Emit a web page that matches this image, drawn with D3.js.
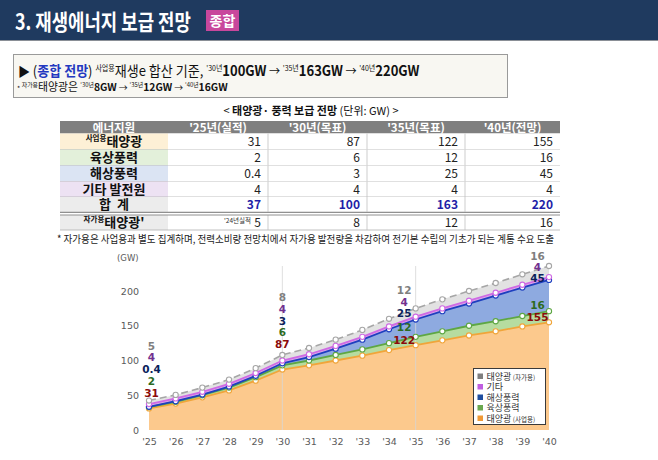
<!DOCTYPE html>
<html><head><meta charset="utf-8">
<script src="https://cdn.jsdelivr.net/npm/d3@7"></script>
<style>
body{margin:0;background:#fff}
svg{display:block}
text{white-space:pre}
</style>
</head><body>
<svg id="c" width="658" height="460"></svg>
<script>
// ---- data ----
const years = [2025, 2026, 2027, 2028, 2029, 2030, 2031, 2032, 2033, 2034, 2035, 2036, 2037, 2038, 2039, 2040];
const solarBiz  = [31, 38, 47, 57, 71, 87, 93, 100, 107, 115, 122, 129, 136, 142, 149, 155];
const onshore   = [2, 2.5, 3, 4, 5, 6, 7, 8, 9, 10, 12, 13, 14, 14.5, 15, 16];
const offshore  = [0.4, 1, 1, 1.5, 2, 3, 5, 9, 14, 20, 25, 29, 32, 37, 41, 45];
const other     = [4, 4, 4, 4, 4, 4, 4, 4, 4, 4, 4, 4, 4, 4, 4, 4];
const solarSelf = [5, 5, 6, 6, 7, 8, 9, 9, 10, 11, 12, 13, 14, 14, 15, 16];

const seriesKeys   = ["solarBiz", "onshore", "offshore", "other", "solarSelf"];
const legendLabels = [["태양광", "(사업용)"], ["육상풍력", ""], ["해상풍력", ""], ["기타", ""], ["태양광", "(자가용)"]];
const markYears    = [2025, 2030, 2035, 2040];
const yTicks       = [0, 50, 100, 150, 200];

const tableHead  = ["에너지원", "'25년(실적)", "'30년(목표)", "'35년(목표)", "'40년(전망)"];
const tableRows  = [["사업용", "태양광"], ["", "육상풍력"], ["", "해상풍력"], ["", "기타 발전원"], ["", "합  계"]];
const tableVals  = [["31", "87", "122", "155"], ["2", "6", "12", "16"], ["0.4", "3", "25", "45"], ["4", "4", "4", "4"], ["37", "100", "163", "220"]];
const selfRow    = [["자가용", "태양광'"], ["5", "8", "12", "16"]];

// ---- styles ----
const kr = "'Noto Sans CJK KR', 'Noto Sans', sans-serif";
const dv = "'DejaVu Sans', Verdana, sans-serif";
const fills  = {solarBiz: "#fcc98d", onshore: "#b6dca0", offshore: "#8eaae0", other: "#dca6ea", solarSelf: "#e2e2e2"};
const lines  = {solarBiz: "#f0a53a", onshore: "#5ea744", offshore: "#1e3fbf", other: "#cf6ae4", solarSelf: "#a6a6a6"};
const labCol = {solarBiz: "#8b0a0a", onshore: "#2d6a1f", offshore: "#0b1f5c", other: "#72308f", solarSelf: "#7f7f7f"};
const legCol = {solarBiz: "#f09a36", onshore: "#6aa84f", offshore: "#1f4e9f", other: "#c05ee0", solarSelf: "#7f7f7f"};

const svg = d3.select("#c");

function rich(x, y, runs, anchor) {
  const t = svg.append("text").attr("x", x).attr("y", y).attr("font-family", kr)
    .attr("text-anchor", anchor || "start");
  let up = 0;
  runs.filter(r => r[0] !== "").forEach(([s, o]) => {
    const shift = o.sup ? -(o.rise || 5) : 0;
    t.append("tspan").text(s)
      .attr("dy", shift - up)
      .attr("font-size", o.size || 13)
      .attr("font-weight", o.bold ? 700 : 400)
      .attr("fill", o.fill || "#111");
    up = shift;
  });
  return t;
}

// squeeze a text horizontally so it spans `width` px from x
function fit(t, x, y, width) {
  const w = t.node().getComputedTextLength();
  t.attr("x", 0).attr("y", 0).attr("transform", `translate(${x},${y}) scale(${width / w},1)`);
  return t;
}

// ---- header ----
svg.append("rect").attr("width", 658).attr("height", 40).attr("fill", "#1f3a5f");
svg.append("line").attr("x1", 0).attr("x2", 658).attr("y1", 40.5).attr("y2", 40.5).attr("stroke", "#8a8f96");
fit(svg.append("text").text("3. 재생에너지 보급 전망")
  .attr("font-family", kr).attr("font-weight", 700).attr("font-size", 22).attr("fill", "#fff"), 15, 30, 176);
svg.append("rect").attr("x", 206).attr("y", 10).attr("width", 33).attr("height", 21).attr("fill", "#c8479c");
svg.append("text").attr("x", 222.5).attr("y", 26).attr("text-anchor", "middle").text("종합")
  .attr("font-family", kr).attr("font-weight", 700).attr("font-size", 14).attr("fill", "#fff");

// ---- summary box ----
svg.append("rect").attr("x", 13.5).attr("y", 54.5).attr("width", 494).attr("height", 43)
  .attr("fill", "#f8f7f2").attr("stroke", "#9a9a9a");
const sup = {sup: true, size: 7.5, rise: 5};
const big = {bold: true, size: 14};
fit(rich(0, 0, [
  ["▶ ", {size: 13}], ["(", {size: 14}], ["종합 전망", {bold: true, size: 14, fill: "#2338c0"}], [") ", {size: 14}],
  ["사업용", sup], ["재생e 합산 기준, ", {size: 14}],
  ["'30년", sup], ["100GW", big], [" → ", {size: 12}],
  ["'35년", sup], ["163GW", big], [" → ", {size: 12}],
  ["'40년", sup], ["220GW", big]
]), 18, 76, 402);
const sup2 = {sup: true, size: 6, rise: 4};
const mid = {bold: true, size: 10.5};
fit(rich(0, 0, [
  ["* ", {size: 7}], ["자가용", sup2], ["태양광은 ", {size: 11}],
  ["'30년", sup2], ["8GW", mid], [" → ", {size: 9}],
  ["'35년", sup2], ["12GW", mid], [" → ", {size: 9}],
  ["'40년", sup2], ["16GW", mid]
]), 17, 91, 211);

// ---- table ----
rich(311, 115, [["< ", {size: 11}], ["태양광· 풍력 보급 전망", {bold: true, size: 11}], [" (단위: GW) >", {size: 11}]], "middle");

const colX = d3.scaleOrdinal().domain(d3.range(6)).range([60, 168, 268, 367, 465, 560]);
const rowY = [133.5, 149.5, 165.5, 181.5, 197, 212];
const rowFill = ["#fdf0d6", "#e3f0da", "#dbe4f3", "#ede2f3", "#ececec"];

// header row
svg.append("rect").attr("x", 60).attr("y", 121).attr("width", 500).attr("height", 12.5).attr("fill", "#7f7f7f");
tableHead.forEach((h, i) => {
  svg.append("text").attr("x", (colX(i) + colX(i + 1)) / 2).attr("y", 131.5).attr("text-anchor", "middle")
    .text(h).attr("font-family", kr).attr("font-size", 11.5).attr("font-weight", 700).attr("fill", "#fff");
});

function tableRow(y0, y1, label, vals, fill, total, note) {
  svg.append("rect").attr("x", 60).attr("y", y0).attr("width", 108).attr("height", y1 - y0).attr("fill", fill);
  svg.append("rect").attr("x", 168).attr("y", y0).attr("width", 392).attr("height", y1 - y0)
    .attr("fill", "#fff");
  svg.append("line").attr("x1", 60).attr("x2", 560).attr("y1", y1).attr("y2", y1).attr("stroke", "#b0b0b0").attr("stroke-width", 0.8);
  d3.range(2, 5).forEach(i => svg.append("line").attr("x1", colX(i)).attr("x2", colX(i))
    .attr("y1", y0).attr("y2", y1).attr("stroke", "#c0c0c0").attr("stroke-width", 0.8));
  const ty = (y0 + y1) / 2 + 4.5;
  rich(114, ty, [[label[0], {sup: true, size: 7.5, rise: 5, bold: true}], [label[1], {bold: true, size: 13}]], "middle");
  vals.forEach((v, i) => {
    svg.append("text").attr("x", colX(i + 2) - 7).attr("y", ty).attr("text-anchor", "end").text(v)
      .attr("font-family", kr).attr("font-size", 12).attr("font-weight", total ? 700 : 400)
      .attr("fill", total ? "#1f1fa8" : "#222");
  });
  if (note) {
    svg.append("text").attr("x", colX(2) - 17).attr("y", ty - 4).attr("text-anchor", "end").text(note)
      .attr("font-family", kr).attr("font-size", 6.5).attr("fill", "#333");
  }
}
tableRows.forEach((r, i) => tableRow(rowY[i], rowY[i + 1], r, tableVals[i], rowFill[i], i === 4));
svg.append("line").attr("x1", 60).attr("x2", 560).attr("y1", 212.5).attr("y2", 212.5).attr("stroke", "#909090");
tableRow(215, 230, selfRow[0], selfRow[1], "#ececec", false, "'24년실적");
svg.append("line").attr("x1", 60).attr("x2", 560).attr("y1", 215).attr("y2", 215).attr("stroke", "#909090");
fit(svg.append("text")
  .text("* 자가용은 사업용과 별도 집계하며, 전력소비량 전망치에서 자가용 발전량을 차감하여 전기본 수립의 기초가 되는 계통 수요 도출")
  .attr("font-family", kr).attr("font-size", 10.5).attr("fill", "#222"), 57, 243, 498);

// ---- chart ----
const x = d3.scaleLinear().domain([2025, 2040]).range([149, 549]);
const y = d3.scaleLinear().domain([0, 200]).range([430, 291]);

const rows = years.map((yr, i) => ({year: yr, solarBiz: solarBiz[i], onshore: onshore[i], offshore: offshore[i], other: other[i], solarSelf: solarSelf[i]}));
const stack = d3.stack().keys(seriesKeys)(rows);

const area = d3.area().x(d => x(d.data.year)).y0(d => y(d[0])).y1(d => y(d[1]));
const line = d3.line().x(d => x(d.data.year)).y(d => y(d[1]));

svg.append("g").selectAll("path").data(stack).join("path")
  .attr("d", area).attr("fill", s => fills[s.key]);

// thin guide lines at '30 and '35
[2030, 2035].forEach(yr => {
  svg.append("line").attr("x1", x(yr)).attr("x2", x(yr)).attr("y1", 266).attr("y2", 430)
    .attr("stroke", "#d6d6d6").attr("stroke-width", 0.8);
});

stack.forEach(s => {
  svg.append("path").datum(s).attr("d", line).attr("fill", "none")
    .attr("stroke", lines[s.key]).attr("stroke-width", s.key === "solarSelf" ? 1.6 : 1.8)
    .attr("stroke-dasharray", s.key === "solarSelf" ? "7,4" : null);
  svg.append("g").selectAll("circle").data(s).join("circle")
    .attr("cx", d => x(d.data.year)).attr("cy", d => y(d[1])).attr("r", 2.6)
    .attr("fill", "#fff").attr("stroke", lines[s.key]).attr("stroke-width", 1.1);
});

// axes (tick labels only)
const yAxis = svg.append("g").attr("transform", "translate(139,0)")
  .call(d3.axisLeft(y).tickValues(yTicks).tickSize(0).tickPadding(0));
yAxis.select(".domain").remove();
yAxis.selectAll("text").attr("font-family", dv).attr("font-size", 9.5).attr("fill", "#595959");
svg.append("text").attr("x", 117).attr("y", 261).text("(GW)")
  .attr("font-family", dv).attr("font-size", 8.5).attr("fill", "#595959");

const xAxis = svg.append("g").attr("transform", "translate(0,438)")
  .call(d3.axisBottom(x).tickValues(years).tickSize(0).tickPadding(0).tickFormat(d => "'" + String(d).slice(2)));
xAxis.select(".domain").remove();
xAxis.selectAll("text").attr("font-family", dv).attr("font-size", 9.5).attr("fill", "#595959");

// value labels: stacked column above the top point ('25, '30), or beside each point ('35, '40)
const columnGap = {2025: 8, 2030: 11};
const labelOffsets = {
  2035: {solarSelf: -18.4, other: -15.2, offshore: -6, onshore: -9.4, solarBiz: -5.7},
  2040: {solarSelf: -10, other: -10, offshore: -1.9, onshore: -6.2, solarBiz: -5.3}
};
markYears.forEach(yr => {
  const i = years.indexOf(yr);
  const top = y(stack[stack.length - 1][i][1]);
  stack.forEach((s, k) => {
    const v = s[i].data[s.key];
    let lx, ly;
    if (columnGap[yr] !== undefined) {
      lx = x(yr) + (yr === 2025 ? 2.5 : 0);
      ly = top - columnGap[yr] - k * 11.7;
    } else {
      lx = x(yr) - 11.5;
      ly = y(s[i][1]) + labelOffsets[yr][s.key];
    }
    svg.append("text").attr("x", lx).attr("y", ly + 4).attr("text-anchor", "middle").text(v)
      .attr("font-family", dv).attr("font-weight", 700).attr("font-size", 10.5).attr("fill", labCol[s.key]);
  });
});

// legend
const lg = svg.append("g").attr("transform", "translate(473.5,368.5)");
lg.append("rect").attr("width", 72).attr("height", 56).attr("fill", "#fff").attr("stroke", "#3a3a3a").attr("stroke-width", 1);
seriesKeys.slice().reverse().forEach((k, j) => {
  const ly = 8 + j * 10.5;
  const idx = seriesKeys.indexOf(k);
  lg.append("rect").attr("x", 4).attr("y", ly - 3).attr("width", 5.5).attr("height", 5.5).attr("fill", legCol[k]);
  const t = lg.append("text").attr("x", 13).attr("y", ly + 3).attr("font-family", kr).attr("fill", "#333");
  t.append("tspan").text(legendLabels[idx][0]).attr("font-size", 9);
  if (legendLabels[idx][1]) t.append("tspan").text(" " + legendLabels[idx][1]).attr("font-size", 6.5);
});
</script>
</body></html>
